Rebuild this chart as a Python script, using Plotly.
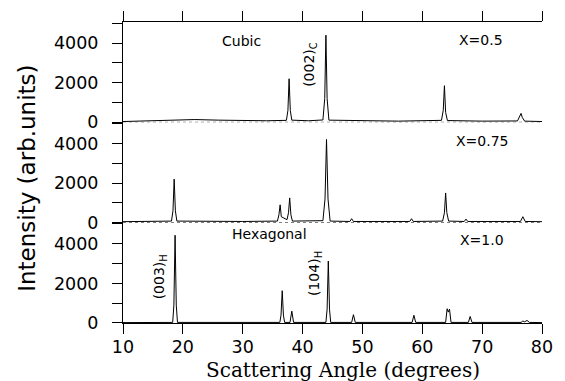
import plotly.graph_objects as go

# ---------------- data ----------------
# X = 0.5 (cubic)
angle_x050 = [10, 14, 18, 20, 22, 26, 30, 34, 37.3, 37.55, 37.75, 37.95, 38.2, 41, 43.4, 43.7, 43.9, 44.1, 44.4,
              50, 56, 63.2, 63.5, 63.7, 63.9, 64.2, 70, 75.9, 76.3, 76.5, 76.7, 77.1, 80]
inten_x050 = [40, 70, 130, 150, 140, 110, 90, 80, 100, 600, 2200, 600, 110, 80, 120, 1200, 4400, 1200, 110,
              70, 60, 100, 600, 1850, 500, 90, 60, 70, 300, 450, 250, 60, 40]

# X = 0.75
angle_x075 = [10, 18.1, 18.35, 18.55, 18.75, 19.0, 30, 35.8, 36.05, 36.25, 36.45, 37.4, 37.65, 37.85, 38.05, 38.3,
              43.4, 43.75, 44.0, 44.25, 44.6, 47.9, 48.2, 48.5, 57.9, 58.2, 58.5, 63.4, 63.7, 63.9, 64.1, 64.4,
              67.0, 67.3, 67.6, 76.4, 76.8, 77.2, 80]
inten_x075 = [50, 80, 600, 2200, 600, 80, 60, 80, 400, 900, 300, 150, 500, 1250, 400, 80,
              100, 1200, 4200, 1200, 80, 60, 200, 60, 60, 200, 60, 80, 500, 1500, 500, 80,
              60, 180, 60, 60, 300, 60, 50]

# X = 1.0 (hexagonal)
angle_x100 = [10, 18.3, 18.5, 18.7, 18.9, 19.1, 36.2, 36.4, 36.6, 36.8, 37.0, 37.9, 38.2, 38.5,
              43.9, 44.1, 44.3, 44.5, 44.7, 48.2, 48.5, 48.8, 58.3, 58.6, 58.9,
              63.9, 64.15, 64.35, 64.55, 64.8, 67.7, 68.0, 68.3, 76.5, 76.8, 77.1, 77.5, 77.9, 80]
inten_x100 = [20, 30, 900, 4430, 900, 30, 30, 400, 1630, 400, 30, 30, 600, 30,
              30, 700, 3130, 700, 30, 30, 420, 30, 30, 390, 30,
              30, 720, 550, 700, 30, 30, 330, 30, 30, 100, 60, 130, 30, 20]

x_ticks = [10, 20, 30, 40, 50, 60, 70, 80]
y_ticks = [0, 2000, 4000]
y_minor_step = 1000

x_range = [10, 80]
y_range = [0, 5065]

FONT = "DejaVu Sans"

fig = go.Figure()
line = dict(color="black", width=1)
fig.add_trace(go.Scatter(x=angle_x100, y=inten_x100, mode="lines", line=line, xaxis="x", yaxis="y", showlegend=False))
fig.add_trace(go.Scatter(x=angle_x075, y=inten_x075, mode="lines", line=line, xaxis="x2", yaxis="y2", showlegend=False))
fig.add_trace(go.Scatter(x=angle_x050, y=inten_x050, mode="lines", line=line, xaxis="x3", yaxis="y3", showlegend=False))

tickfont = dict(family=FONT, size=17.5, color="black")

common_y = dict(range=y_range, tickvals=y_ticks, ticks="outside", ticklen=10,
                tickwidth=1, tickcolor="black", showline=True, linecolor="black", linewidth=1,
                minor=dict(dtick=y_minor_step, tick0=0, ticks="outside", ticklen=10, tickwidth=1,
                           tickcolor="black", showgrid=False),
                showgrid=False, zeroline=False, tickfont=tickfont, ticklabelstandoff=10, anchor="x")
right_y = dict(range=y_range, tickvals=y_ticks, ticks="outside", ticklen=5, tickwidth=1, tickcolor="black",
               minor=dict(dtick=y_minor_step, tick0=0, ticks="outside", ticklen=5, tickwidth=1,
                          tickcolor="black", showgrid=False),
               showline=True, linecolor="black", linewidth=1, showgrid=False, zeroline=False,
               showticklabels=False, side="right", anchor="x")

d = 1 / 3
fig.update_layout(
    width=565, height=381,
    margin=dict(l=123, r=17, t=19, b=58),
    paper_bgcolor="white", plot_bgcolor="white",
    xaxis=dict(range=x_range, tickvals=x_ticks, ticks="outside", ticklen=10, tickwidth=1, tickcolor="black",
               showline=True, linecolor="black", linewidth=1, showgrid=False, zeroline=False,
               tickfont=tickfont, ticklabelstandoff=-2, anchor="y", domain=[0, 1]),
    xaxis2=dict(range=x_range, showline=False, showticklabels=False, ticks="", showgrid=False,
                zeroline=False, anchor="y2", matches="x"),
    xaxis3=dict(range=x_range, tickvals=x_ticks, ticks="outside", ticklen=10, tickwidth=1, tickcolor="black",
                showline=True, linecolor="black", linewidth=1, showgrid=False, zeroline=False,
                showticklabels=False, side="top", anchor="y3", matches="x"),
    yaxis=dict(domain=[0, d], **common_y),
    yaxis2=dict(domain=[d, 2 * d], **common_y),
    yaxis3=dict(domain=[2 * d, 1], **common_y),
    yaxis4=dict(overlaying="y", **right_y),
    yaxis5=dict(overlaying="y2", **right_y),
    yaxis6=dict(overlaying="y3", **right_y),
)

# dotted separators between panels
for yref in ["y2", "y3"]:
    fig.add_shape(type="line", xref="x", yref=yref, x0=10, x1=80, y0=0, y1=0,
                  line=dict(color="#333333", width=1, dash="dot"))

af = dict(family=FONT, size=14, color="black")
annotations = [
    dict(x=29.8, y=4120, xref="x3", yref="y3", text="Cubic"),
    dict(x=69.8, y=4170, xref="x3", yref="y3", text="X=0.5"),
    dict(x=41.3, y=2920, xref="x3", yref="y3", text="(002)<sub>C</sub>", textangle=-90),
    dict(x=70.0, y=4100, xref="x2", yref="y2", text="X=0.75"),
    dict(x=34.5, y=4490, xref="x", yref="y", text="Hexagonal"),
    dict(x=70.0, y=4190, xref="x", yref="y", text="X=1.0"),
    dict(x=16.1, y=2330, xref="x", yref="y", text="(003)<sub>H</sub>", textangle=-90),
    dict(x=42.1, y=2480, xref="x", yref="y", text="(104)<sub>H</sub>", textangle=-90),
]
for a in annotations:
    fig.add_annotation(showarrow=False, font=af, **a)

# axis titles (positions given in figure pixels, converted to plot-area paper coords)
PW, PH, ML, MR, MT, MB = 565, 381, 123, 17, 19, 58


def to_paper(px, py):
    return (px - ML) / (PW - ML - MR), (PH - MB - py) / (PH - MT - MB)


tx, ty = to_paper(26, 177)
fig.add_annotation(x=tx, y=ty, xref="paper", yref="paper", text="Intensity (arb.units)",
                   textangle=-90, showarrow=False, font=dict(family=FONT, size=23, color="black"),
                   xanchor="center", yanchor="middle")
tx, ty = to_paper(346, 370)
fig.add_annotation(x=tx, y=ty, xref="paper", yref="paper", text="Scattering Angle (degrees)",
                   showarrow=False, font=dict(family="DejaVu Serif", size=20, color="black"),
                   xanchor="center", yanchor="middle")

fig.write_html("out.html")
